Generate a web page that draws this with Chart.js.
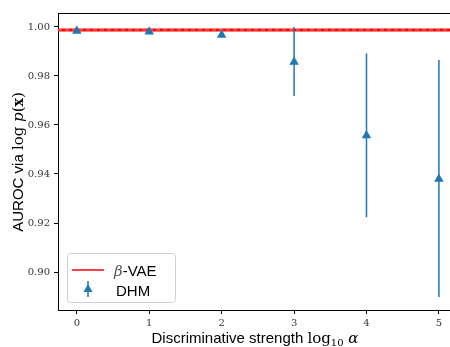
<!DOCTYPE html>
<html lang="en">
<head>
<meta charset="utf-8" />
<title>AUROC vs discriminative strength</title>
<script src="https://cdn.jsdelivr.net/npm/chart.js"></script>
<style>
  html, body { margin: 0; background: #fff; overflow: hidden; }
  #wrap { width: 456px; height: 347px; }
</style>
</head>
<body>
<div id="wrap"><canvas id="auroc"></canvas></div>
<script>
    // values
    var strengths = [0, 1, 2, 3, 4, 5];
    var dhmMean = [0.9984, 0.9980, 0.9967, 0.9857, 0.9557, 0.9380];
    var dhmLow = [0.9980, 0.9976, 0.9962, 0.9718, 0.9224, 0.8898];
    var dhmHigh = [0.9988, 0.9984, 0.9972, 1.0000, 0.9892, 0.9865];
    var vaeValue = 0.9988;
    var yTicks = [0.90, 0.92, 0.94, 0.96, 0.98, 1.00];

    var blue = '#1f77b4';
    var serif = '"DejaVu Serif", "Liberation Serif", serif';
    var sans = '"Liberation Sans", Arial, sans-serif';

    function drawMixed(ctx, parts, x, y) {
        // parts: [text, font] pairs, drawn centred on x
        var total = 0;
        parts.forEach(function (p) { ctx.font = p[1]; total += ctx.measureText(p[0]).width; });
        var cx = x - total / 2;
        parts.forEach(function (p) {
            ctx.font = p[1];
            ctx.fillText(p[0], cx, y + (p[2] || 0));
            cx += ctx.measureText(p[0]).width;
        });
    }

    var extras = {
        id: 'extras',
        beforeDatasetsDraw: function (chart) {
            var ctx = chart.ctx, a = chart.chartArea;
            var xs = chart.scales.x, ys = chart.scales.y;
            ctx.save();
            // beta-VAE reference line
            var yv = ys.getPixelForValue(vaeValue);
            ctx.strokeStyle = '#ff0000';
            ctx.lineWidth = 3;
            ctx.beginPath(); ctx.moveTo(a.left, yv); ctx.lineTo(a.right, yv); ctx.stroke();
            ctx.strokeStyle = '#ff8080';
            ctx.lineWidth = 1;
            ctx.setLineDash([4, 3]);
            ctx.beginPath(); ctx.moveTo(a.left, yv); ctx.lineTo(a.right, yv); ctx.stroke();
            ctx.setLineDash([]);
            // error bars
            ctx.strokeStyle = blue;
            ctx.lineWidth = 1.5;
            strengths.forEach(function (s, i) {
                var px = xs.getPixelForValue(s);
                ctx.beginPath();
                ctx.moveTo(px, ys.getPixelForValue(dhmLow[i]));
                ctx.lineTo(px, ys.getPixelForValue(dhmHigh[i]));
                ctx.stroke();
            });
            ctx.restore();
        },
        afterDraw: function (chart) {
            var ctx = chart.ctx, a = chart.chartArea;
            ctx.save();
            // top spine
            ctx.strokeStyle = '#000';
            ctx.lineWidth = 1;
            ctx.beginPath(); ctx.moveTo(a.left, a.top + 0.5); ctx.lineTo(a.right, a.top + 0.5); ctx.stroke();

            // axis titles
            ctx.fillStyle = '#000';
            ctx.textBaseline = 'alphabetic';
            drawMixed(ctx, [
                ['Discriminative strength ', '15px ' + sans],
                ['log', '15px ' + serif],
                ['10', '10px ' + serif, 3],
                [' \u03b1', 'italic 15px ' + serif]
            ], 255, 343);
            ctx.save();
            ctx.translate(23, 162);
            ctx.rotate(-Math.PI / 2);
            drawMixed(ctx, [
                ['AUROC via ', '15px ' + sans],
                ['log ', '15px ' + serif],
                ['p', 'italic 15px ' + serif],
                ['(', '15px ' + serif],
                ['x', 'bold 14px ' + serif],
                [')', '15px ' + serif]
            ], 0, 0);
            ctx.restore();

            // legend
            var lx = 67, ly = 253, lw = 108, lh = 49;
            ctx.fillStyle = 'rgba(255,255,255,0.85)';
            ctx.strokeStyle = '#d0d0d0';
            ctx.lineWidth = 1;
            ctx.beginPath();
            ctx.roundRect(lx + 0.5, ly + 0.5, lw, lh, 3);
            ctx.fill(); ctx.stroke();
            ctx.strokeStyle = '#ff0000';
            ctx.lineWidth = 1.5;
            ctx.beginPath(); ctx.moveTo(72, 270); ctx.lineTo(104, 270); ctx.stroke();
            ctx.strokeStyle = blue;
            ctx.beginPath(); ctx.moveTo(88, 281); ctx.lineTo(88, 297); ctx.stroke();
            ctx.fillStyle = blue;
            ctx.beginPath(); ctx.moveTo(88, 284); ctx.lineTo(92.5, 292); ctx.lineTo(83.5, 292); ctx.closePath(); ctx.fill();
            ctx.textAlign = 'left';
            ctx.font = 'italic 15px ' + serif;
            ctx.fillStyle = '#555';
            ctx.fillText('\u03b2', 114, 276);
            var bw = ctx.measureText('\u03b2').width;
            ctx.font = '15px ' + sans;
            ctx.fillStyle = '#000';
            ctx.fillText('-VAE', 114 + bw, 276);
            ctx.fillText('DHM', 116, 296);
            ctx.restore();
        }
    };

    var ctx = document.getElementById('auroc');
    var chart = new Chart(ctx, {
        type: 'scatter',
        data: {
            datasets: [{
                label: 'DHM',
                data: strengths.map(function (s, i) { return { x: s, y: dhmMean[i] }; }),
                pointStyle: 'triangle',
                pointRadius: 5.5,
                backgroundColor: blue,
                borderColor: blue,
                borderWidth: 0
            }]
        },
        options: {
            responsive: true,
            maintainAspectRatio: false,
            animation: false,
            layout: { padding: { top: 13, right: 0, left: 0, bottom: 0 } },
            plugins: {
                legend: { display: false },
                tooltip: { enabled: false }
            },
            scales: {
                x: {
                    type: 'linear',
                    min: -0.26,
                    max: 5.16,
                    afterFit: function (s) { s.height = 37; },
                    afterBuildTicks: function (s) { s.ticks = strengths.map(function (v) { return { value: v }; }); },
                    ticks: {
                        color: '#333',
                        font: { family: serif, size: 10 },
                        padding: 3,
                        maxRotation: 0,
                        callback: function (v) { return String(v); }
                    },
                    grid: { drawOnChartArea: false, drawTicks: true, tickLength: 4, tickColor: '#000' },
                    border: { color: '#000', width: 1 }
                },
                y: {
                    min: 0.8845,
                    max: 1.0057,
                    afterFit: function (s) { s.width = 58; },
                    afterBuildTicks: function (s) { s.ticks = yTicks.map(function (v) { return { value: v }; }); },
                    ticks: {
                        color: '#333',
                        font: { family: serif, size: 10 },
                        padding: 4,
                        callback: function (v) { return v.toFixed(2); }
                    },
                    grid: { drawOnChartArea: false, drawTicks: true, tickLength: 4, tickColor: '#000' },
                    border: { color: '#000', width: 1 }
                }
            }
        },
        plugins: [extras]
    });
</script>
</body>
</html>
